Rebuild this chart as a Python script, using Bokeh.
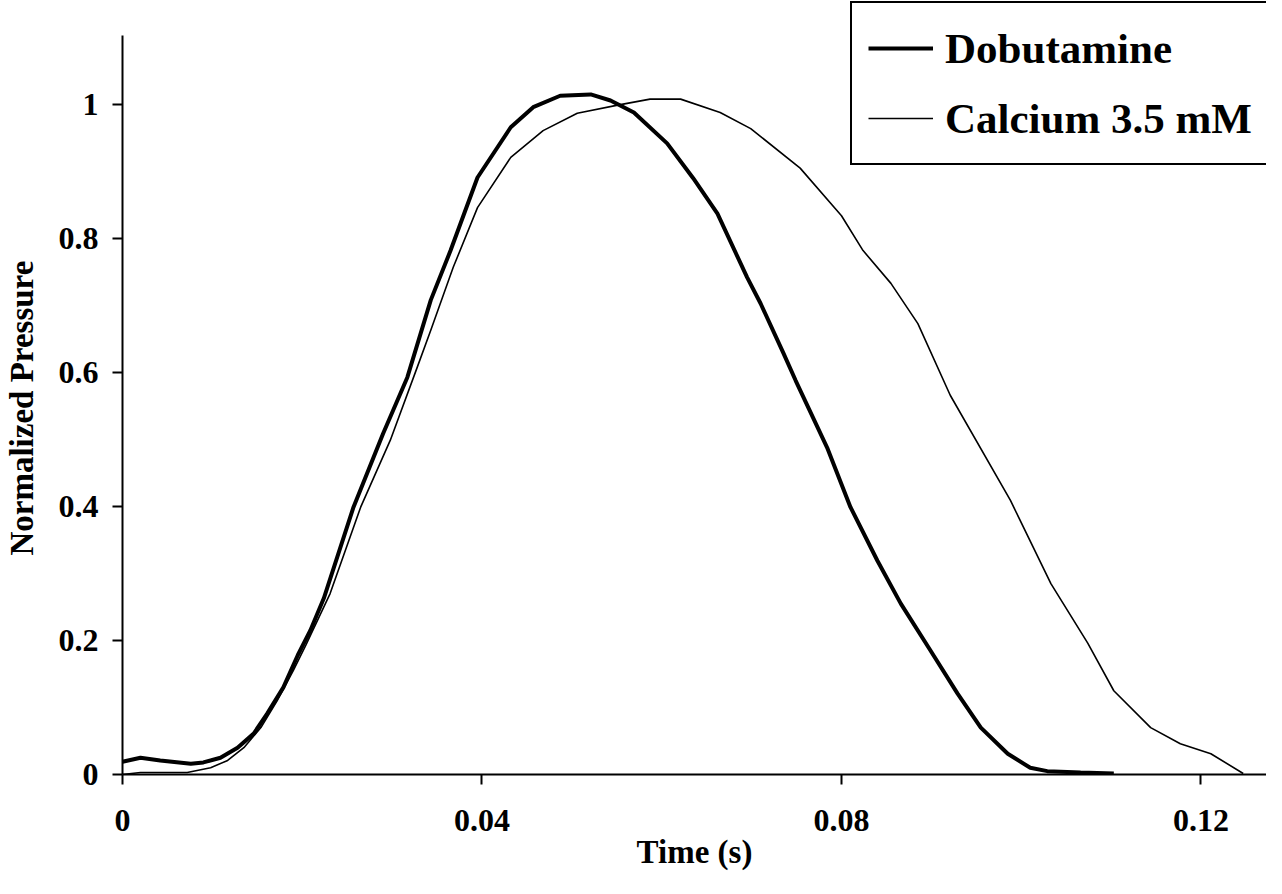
from bokeh.plotting import figure
from bokeh.models import Legend, LegendItem, FixedTicker, Range1d, NumeralTickFormatter
from bokeh.embed import file_html
from bokeh.resources import INLINE

# Time (s) and normalized pressure
t_dobutamine = [0.0000, 0.0020, 0.0042, 0.0076, 0.0090, 0.0109, 0.0128, 0.0146, 0.0161,
                0.0179, 0.0195, 0.0209, 0.0224, 0.0257, 0.0290, 0.0317, 0.0343, 0.0365,
                0.0395, 0.0432, 0.0457, 0.0487, 0.0521, 0.0543, 0.0569, 0.0606, 0.0635,
                0.0662, 0.0695, 0.0710, 0.0735, 0.0749, 0.0784, 0.0810, 0.0840, 0.0866,
                0.0899, 0.0929, 0.0955, 0.0985, 0.1010, 0.1029, 0.1066, 0.1103]
p_dobutamine = [0.019, 0.025, 0.021, 0.016, 0.018, 0.025, 0.040, 0.061, 0.091,
                0.130, 0.178, 0.215, 0.263, 0.399, 0.509, 0.593, 0.708, 0.782,
                0.891, 0.966, 0.996, 1.013, 1.015, 1.006, 0.988, 0.942, 0.890,
                0.837, 0.742, 0.703, 0.630, 0.588, 0.488, 0.399, 0.319, 0.255,
                0.185, 0.121, 0.070, 0.031, 0.010, 0.005, 0.003, 0.0015]

t_calcium = [0.0000, 0.0020, 0.0072, 0.0098, 0.0117, 0.0135, 0.0154, 0.0172, 0.0190,
             0.0204, 0.0231, 0.0265, 0.0298, 0.0328, 0.0343, 0.0368, 0.0395, 0.0432,
             0.0468, 0.0506, 0.0551, 0.0587, 0.0621, 0.0665, 0.0699, 0.0754, 0.0800,
             0.0824, 0.0855, 0.0885, 0.0921, 0.0988, 0.1033, 0.1074, 0.1103, 0.1144,
             0.1177, 0.1211, 0.1247]
p_calcium = [0.000, 0.003, 0.003, 0.010, 0.021, 0.040, 0.070, 0.110, 0.155,
             0.193, 0.270, 0.399, 0.499, 0.608, 0.663, 0.757, 0.846, 0.921,
             0.961, 0.987, 0.999, 1.008, 1.008, 0.988, 0.964, 0.905, 0.834,
             0.782, 0.733, 0.673, 0.566, 0.409, 0.285, 0.196, 0.125, 0.070,
             0.046, 0.031, 0.0015]

x_ticks = [0, 0.04, 0.08, 0.12]
y_ticks = [0, 0.2, 0.4, 0.6, 0.8, 1.0]
series_labels = ["Dobutamine", "Calcium 3.5 mM"]
x_title = "Time (s)"
y_title = "Normalized Pressure"

FONT = "Liberation Serif"

p = figure(width=1266, height=878, output_backend="svg", toolbar_location=None,
           x_range=Range1d(0, 0.12729), y_range=Range1d(0, 1.1552),
           min_border_left=122, min_border_right=0, min_border_top=0,
           min_border_bottom=104, outline_line_color=None,
           background_fill_color="white", border_fill_color="white")

p.xgrid.visible = False
p.ygrid.visible = False

r1 = p.line(t_dobutamine, p_dobutamine, line_width=4, line_color="black")
r2 = p.line(t_calcium, p_calcium, line_width=1.6, line_color="black")

for ax in (p.xaxis[0], p.yaxis[0]):
    ax.axis_line_width = 2
    ax.axis_line_color = "black"
    ax.major_tick_line_width = 2
    ax.major_tick_line_color = "black"
    ax.major_tick_out = 10
    ax.major_tick_in = 0
    ax.minor_tick_line_color = None
    ax.major_label_text_font = FONT
    ax.major_label_text_font_style = "bold"
    ax.major_label_text_font_size = "32px"
    ax.major_label_text_color = "black"
    ax.axis_label_text_font = FONT
    ax.axis_label_text_font_style = "bold"
    ax.axis_label_text_font_size = "33px"
    ax.axis_label_text_color = "black"

p.xaxis.ticker = FixedTicker(ticks=x_ticks)
p.yaxis.ticker = FixedTicker(ticks=y_ticks)
p.xaxis.formatter = NumeralTickFormatter(format="0.[00]")
p.yaxis.formatter = NumeralTickFormatter(format="0.[0]")
# the axis line stops just above 1.1, the frame continues up under the legend
p.yaxis.bounds = (0, 1.103)
p.xaxis.major_label_standoff = 25
p.yaxis.major_label_standoff = 14
p.xaxis.axis_label = x_title
p.xaxis.axis_label_standoff = 0
# trailing no-break spaces centre the visible title on the drawn axis line
p.yaxis.axis_label = y_title + "\u00a0" * 5
p.yaxis.axis_label_standoff = 16

legend = Legend(items=[LegendItem(label=series_labels[0], renderers=[r1]),
                       LegendItem(label=series_labels[1], renderers=[r2])],
                location=(728, 609))
legend.border_line_color = "black"
legend.border_line_width = 2
legend.border_line_alpha = 1
legend.background_fill_color = "white"
legend.background_fill_alpha = 1
legend.label_text_font = FONT
legend.label_text_font_style = "bold"
legend.label_text_font_size = "43px"
legend.label_text_color = "black"
legend.glyph_width = 65
legend.glyph_height = 58
legend.label_height = 58
legend.label_standoff = 12
legend.spacing = 12
legend.padding = 16
legend.margin = 0
p.add_layout(legend, "center")

open("out.html", "w").write(file_html(p, INLINE))
